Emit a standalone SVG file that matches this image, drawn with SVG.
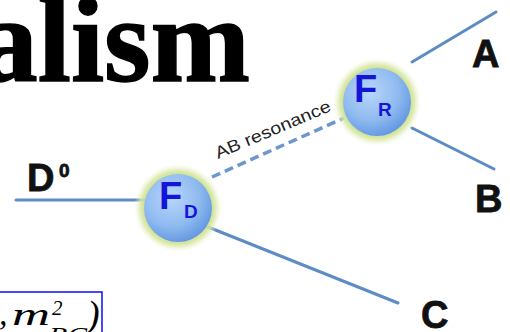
<svg xmlns="http://www.w3.org/2000/svg" width="510" height="332" viewBox="0 0 510 332">
<defs>
<radialGradient id="halo" cx="0.5" cy="0.5" r="0.5">
<stop offset="0.72" stop-color="#c4da80" stop-opacity="1"/>
<stop offset="0.85" stop-color="#d9e8a6" stop-opacity="0.85"/>
<stop offset="1" stop-color="#eef5d8" stop-opacity="0"/>
</radialGradient>
<radialGradient id="ball" cx="0.4" cy="0.35" r="0.7">
<stop offset="0" stop-color="#b8d6fa"/>
<stop offset="0.6" stop-color="#8fbaf0"/>
<stop offset="1" stop-color="#5f94e0"/>
</radialGradient>
<style>
.ln{stroke:#5d8cc4;stroke-width:3;fill:none;stroke-linecap:round}
.dash{stroke:#6d97cc;stroke-width:3.5;fill:none;stroke-dasharray:9 5}
.lbl{font-family:"Liberation Sans",Arial,sans-serif;font-weight:bold;fill:#111;stroke:#111;stroke-width:0.8}
.big{font-family:"Liberation Sans",Arial,sans-serif;font-weight:bold;fill:#1515d8}
.math{font-family:"Liberation Serif","Times New Roman",serif;font-style:italic;fill:#000}
</style>
</defs>
<text x="-22" y="81" font-family="Liberation Serif,'Times New Roman',serif" font-weight="bold" font-size="120" fill="#000" stroke="#000" stroke-width="1.5" textLength="272" lengthAdjust="spacingAndGlyphs">alism</text>
<g id="connectors">
<line class="ln" x1="16" y1="200" x2="146" y2="200"/>
<line class="ln" x1="203" y1="225" x2="398" y2="303"/>
<line class="ln" x1="412" y1="62" x2="496" y2="12"/>
<line class="ln" x1="412" y1="128" x2="494" y2="169"/>
<line class="dash" x1="212" y1="177" x2="344" y2="118"/>
<text x="218" y="159" transform="rotate(-23 218 159)" font-family="Liberation Sans,Arial,sans-serif" font-size="17" fill="#222" textLength="124" lengthAdjust="spacingAndGlyphs">AB resonance</text>
</g>
<g id="D0">
<text class="lbl" x="27" y="191" font-size="38">D</text>
<text class="lbl" x="59" y="177" font-size="19">0</text>
</g>
<g id="FD">
<circle cx="178" cy="208" r="44" fill="url(#halo)"/>
<circle cx="178" cy="208" r="34" fill="url(#ball)"/>
<text class="big" x="159" y="209" font-size="38">F</text>
<text class="big" x="184" y="218" font-size="19">D</text>
</g>
<g id="FR">
<circle cx="377" cy="102" r="44" fill="url(#halo)"/>
<circle cx="377" cy="102" r="34" fill="url(#ball)"/>
<text class="big" x="354" y="102" font-size="38">F</text>
<text class="big" x="378" y="116" font-size="19">R</text>
</g>
<g id="A"><text class="lbl" x="472" y="67" font-size="38">A</text></g>
<g id="B"><text class="lbl" x="475" y="212" font-size="38">B</text></g>
<g id="C"><text class="lbl" x="421" y="328" font-size="38">C</text></g>
<g id="formula">
<rect x="-10" y="292" width="112" height="50" fill="none" stroke="#1a1aff" stroke-width="1.6"/>
<text class="math" x="-1" y="325" font-size="34" font-style="normal">,</text>
<text class="math" x="12" y="325" font-size="32" textLength="38" lengthAdjust="spacingAndGlyphs">m</text>
<text class="math" x="52" y="315" font-size="21" font-style="normal">2</text>
<text class="math" x="49" y="343" font-size="23" textLength="38" lengthAdjust="spacingAndGlyphs">BC</text>
<text class="math" x="87" y="327" font-size="38" font-style="normal">)</text>
</g>
</svg>
